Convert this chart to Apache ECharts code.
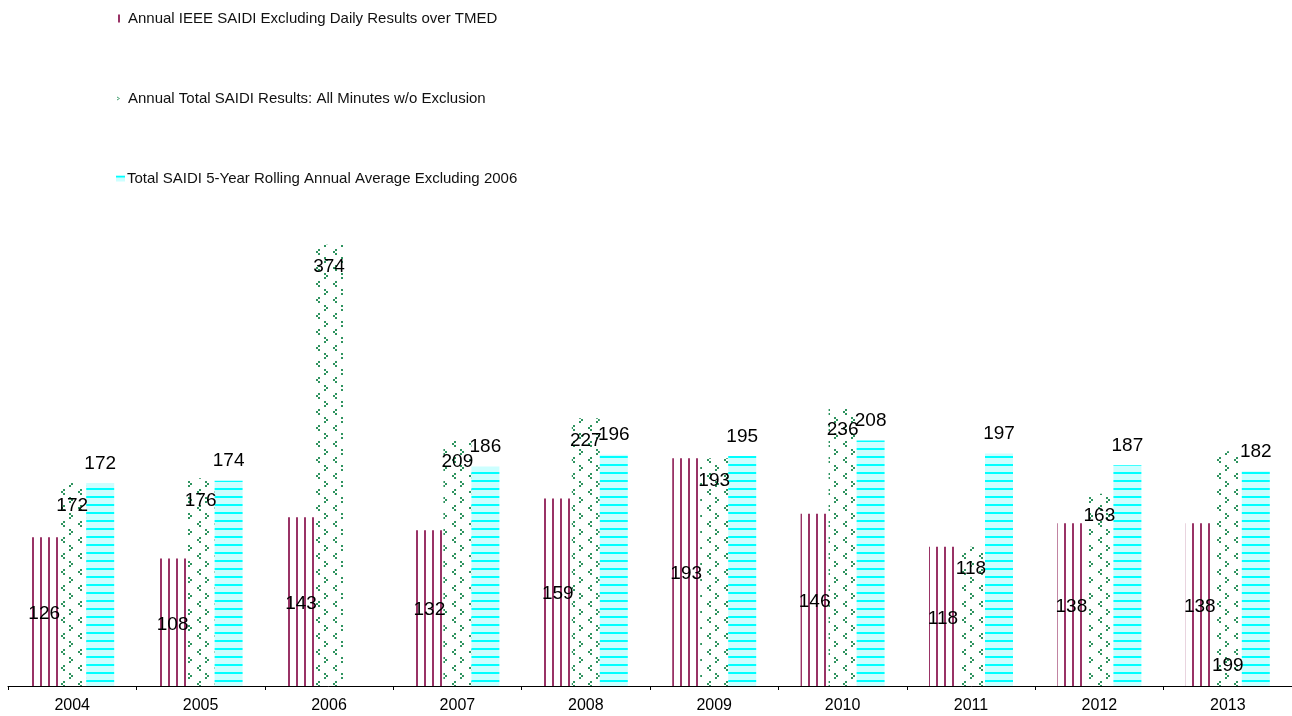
<!DOCTYPE html>
<html>
<head>
<meta charset="utf-8">
<script src="https://cdn.jsdelivr.net/npm/echarts@6/dist/echarts.min.js"></script>
<style>html,body{margin:0;padding:0;background:#fff;}#chart{width:1292px;height:716px;}</style>
</head>
<body>
<div id="chart"></div>
<script>
const categories = ['2004','2005','2006','2007','2008','2009','2010','2011','2012','2013'];
const seriesNames = [
  'Annual IEEE SAIDI Excluding Daily Results over TMED',
  'Annual Total SAIDI Results: All Minutes w/o Exclusion',
  'Total SAIDI 5-Year Rolling Annual Average Excluding 2006'
];
const ieeeSaidi = [126, 108, 143, 132, 159, 193, 146, 118, 138, 138];
const totalSaidi = [172, 176, 374, 209, 227, 193, 236, 118, 163, 199];
const rollingAvg = [172, 174, null, 186, 196, 195, 208, 197, 187, 182];

function makeCanvas(w, h, draw) {
  const c = document.createElement('canvas');
  c.width = w; c.height = h;
  draw(c.getContext('2d'));
  return c;
}
const RED = '#993366', GREEN = '#2F9460', CYAN = '#00FFFF', LCYAN = '#CCFFFF';
const redPattern = { image: makeCanvas(8, 8, ctx => {
  ctx.fillStyle = '#fff'; ctx.fillRect(0, 0, 8, 8);
  ctx.fillStyle = RED; ctx.fillRect(0, 0, 2, 8);
}), repeat: 'repeat' };
const greenPattern = { image: makeCanvas(17, 16, ctx => {
  ctx.fillStyle = '#fff'; ctx.fillRect(0, 0, 17, 16);
  ctx.fillStyle = GREEN;
  ctx.fillRect(1, 1, 2, 2); ctx.fillRect(3, 3, 2, 2); ctx.fillRect(1, 5, 2, 2);
  ctx.fillRect(12, 9, 2, 2); ctx.fillRect(10, 11, 2, 2); ctx.fillRect(12, 13, 2, 2);
}), repeat: 'repeat' };
const bluePattern = { image: makeCanvas(4, 8, ctx => {
  ctx.fillStyle = LCYAN; ctx.fillRect(0, 0, 4, 8);
  ctx.fillStyle = CYAN; ctx.fillRect(0, 0, 4, 2);
}), repeat: 'repeat' };

const FONT = 'Liberation Sans, Arial, sans-serif';
const labelFont = { fontFamily: FONT, fontSize: 19, color: '#000' };
const legendText = { fontFamily: FONT, fontSize: 15, color: '#111' };

const chart = echarts.init(document.getElementById('chart'), null, { renderer: 'canvas' });
chart.setOption({
  animation: false,
  backgroundColor: '#fff',
  legend: [
    { left: 118, top: 11, padding: 0, icon: 'rect', itemWidth: 2, itemHeight: 8, selectedMode: false,
      textStyle: Object.assign({ padding: [0, 0, 0, 3] }, legendText),
      data: [{ name: seriesNames[0], itemStyle: { color: RED } }] },
    { left: 117, top: 91, padding: 0, icon: 'path://M0,0L3,2L0,4L0,3L2,2L0,1Z', itemWidth: 3, itemHeight: 4, selectedMode: false,
      textStyle: Object.assign({ padding: [0, 0, 0, 3] }, legendText),
      data: [{ name: seriesNames[1], itemStyle: { color: GREEN } }] },
    { left: 116, top: 171, padding: 0, icon: 'rect', itemWidth: 9, itemHeight: 6, selectedMode: false,
      textStyle: Object.assign({ padding: [0, 0, 0, -3] }, legendText),
      data: [{ name: seriesNames[2], itemStyle: { color: bluePattern } }] }
  ],
  grid: { left: 8, right: 0, top: 214, bottom: 30, containLabel: false },
  xAxis: {
    type: 'category',
    data: categories,
    axisLine: { lineStyle: { color: '#000', width: 1 } },
    axisTick: { show: true, length: 4, lineStyle: { color: '#000' } },
    axisLabel: { fontFamily: FONT, fontSize: 16, color: '#000', margin: 12 }
  },
  yAxis: { type: 'value', min: 0, max: 400, show: false, splitLine: { show: false } },
  series: [
    { name: seriesNames[0], type: 'bar', data: ieeeSaidi, barWidth: 28, barGap: '0%',
      itemStyle: { color: redPattern },
      label: Object.assign({ show: true, position: 'inside', offset: [0, 2] }, labelFont) },
    { name: seriesNames[1], type: 'bar', barWidth: 28, barGap: '0%',
      data: totalSaidi.map((v, i) => i === totalSaidi.length - 1
        ? { value: v, label: { position: 'insideBottom', distance: 11 } } : v),
      itemStyle: { color: greenPattern },
      label: Object.assign({ show: true, position: 'insideTop', distance: 13 }, labelFont) },
    { name: seriesNames[2], type: 'bar', data: rollingAvg, barWidth: 28, barGap: '0%',
      itemStyle: { color: bluePattern },
      label: Object.assign({ show: true, position: 'top', distance: 10 }, labelFont) }
  ]
});
</script>
</body>
</html>
